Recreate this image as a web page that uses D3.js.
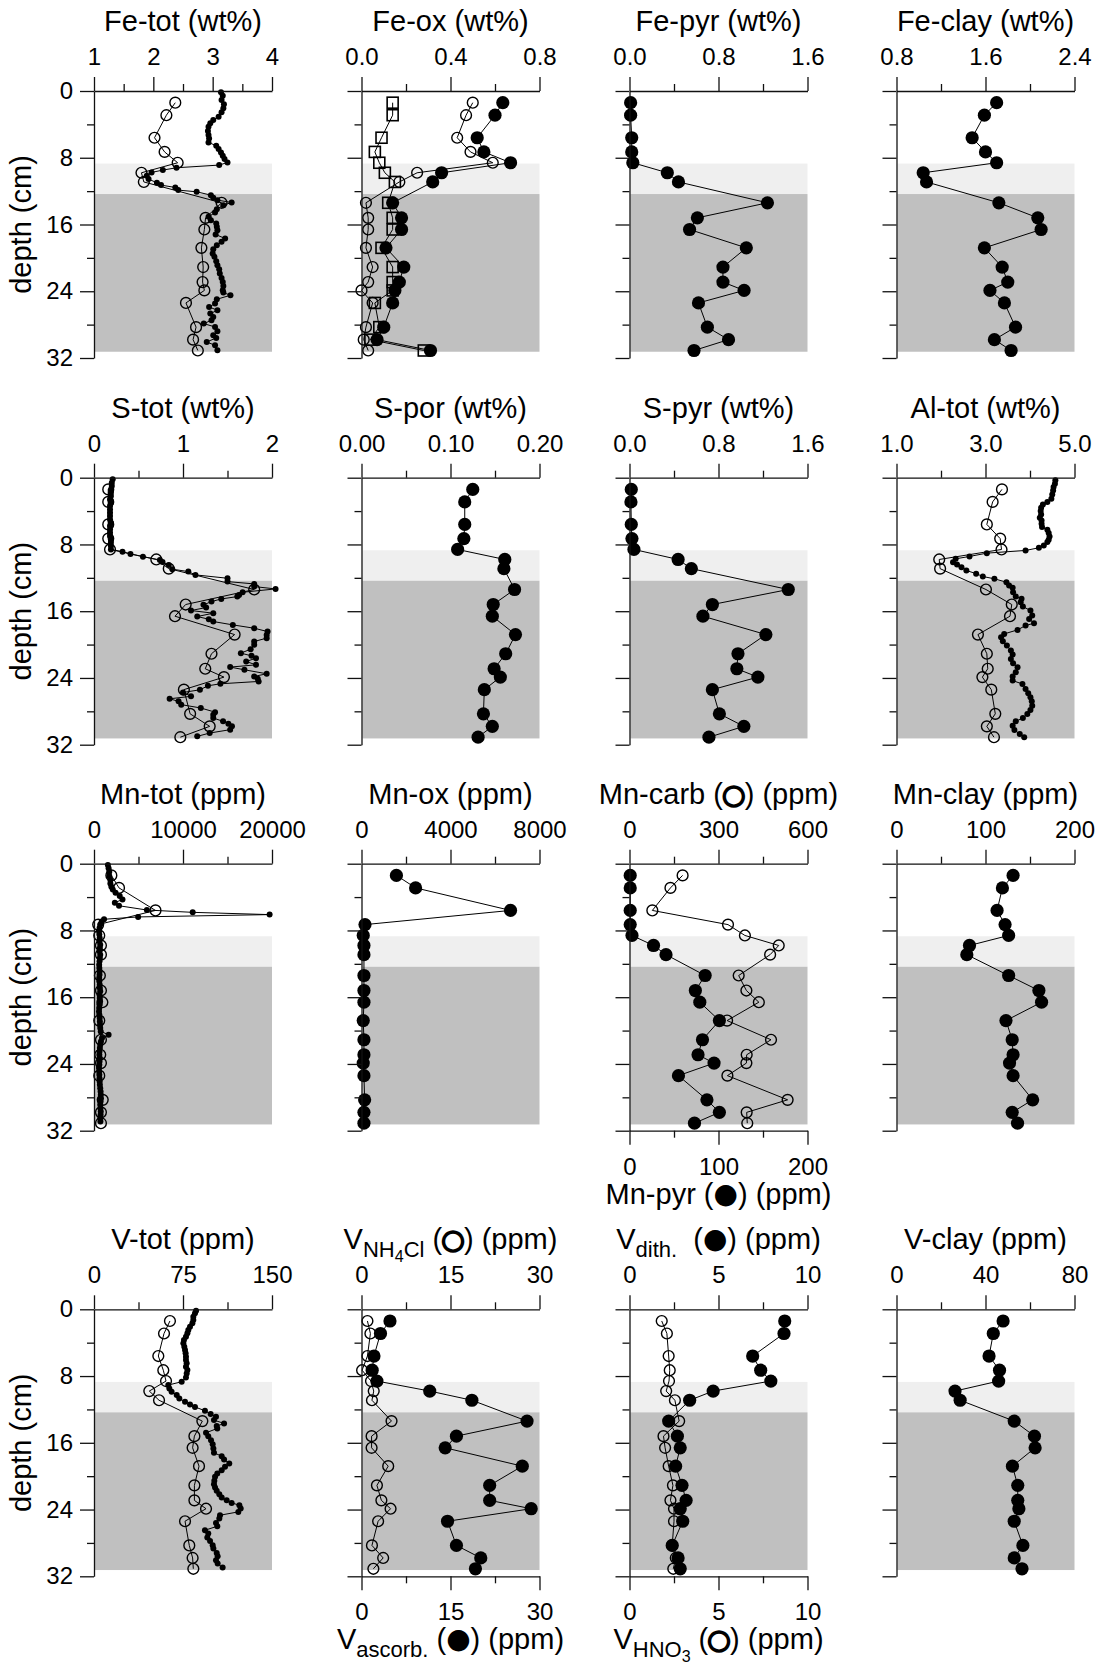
<!DOCTYPE html>
<html>
<head>
<meta charset="utf-8">
<script src="https://cdn.jsdelivr.net/npm/d3@7"></script>
<style>
  body { margin: 0; background: #fff; }
  svg text { font-family: "Liberation Sans", Arial, sans-serif; fill: #000; }
</style>
</head>
<body>
<svg id="chart" width="1096" height="1666"></svg>
<script>
// ---------------- data ----------------
// depths (cm) of the discrete samples
const sampleDepth = [1.4, 2.9, 5.6, 7.3, 8.6, 9.8, 10.9, 13.4, 15.2, 16.6, 18.8, 21.1, 22.9, 23.9, 25.4, 28.3, 29.8, 31.1];
// depth-zone boundaries (cm): light zone, dark zone
const zoneBounds = [8.7, 12.35, 31.25];
const depthMajor = [0, 8, 16, 24, 32];
const depthMinor = [4, 12, 20, 28];

// Fe
const feTotHiDepth = [0.16,0.56,1.08,1.6,2.08,2.56,3.08,3.48,3.88,4.28,4.8,5.28,5.68,6.16,6.56,6.96,7.36,7.76,8.16,8.56,8.88,9.2,9.48,9.76,10.16,10.56,11.0,11.28,11.56,11.88,12.08,12.48,12.8,13.08,13.36,13.68,14.16,14.56,15.08,15.48,15.88,16.28,16.68,17.2,17.68,18.08,18.48,18.96,19.48,19.88,20.4,20.88,21.36,21.88,22.4,22.88,23.36,23.88,24.16,24.48,24.96,25.48,25.88,26.28,26.68,27.08,27.48,27.88,28.28,28.8,29.28,29.6,30.08,30.48,31.08];
const feTotHi = [3.14,3.17,3.15,3.19,3.18,3.15,3.10,3.01,2.96,2.93,2.92,2.93,2.94,2.93,3.06,3.10,3.14,3.17,3.20,3.25,3.11,2.39,2.16,1.97,1.89,1.92,2.06,2.13,2.37,2.42,2.73,2.97,3.01,3.08,3.32,3.18,3.07,3.04,2.93,2.97,3.06,3.07,3.08,3.05,3.21,3.15,3.07,3.01,3.00,3.03,3.06,3.08,3.11,3.12,3.15,3.17,3.18,3.17,3.18,3.30,3.07,3.04,2.94,3.08,2.96,3.01,2.98,2.85,3.04,3.08,3.01,3.06,2.90,3.04,3.08];
const feTotBulk = [2.37,2.22,2.02,2.19,2.41,1.80,1.84,3.15,2.88,2.86,2.81,2.84,2.83,2.86,2.55,2.72,2.67,2.75];
const feOxFilled = [0.635,0.60,0.52,0.55,0.67,0.36,0.32,0.14,0.18,0.18,0.11,0.19,0.17,0.15,0.14,0.10,0.07,0.31];
const feOxOpen = [0.50,0.47,0.43,0.49,0.59,0.25,0.17,0.02,0.03,0.03,0.02,0.05,0.03,0.00,0.05,0.02,0.01,0.03];
const feOxSquare = [0.14,0.14,0.09,0.06,0.08,0.105,0.15,0.12,0.14,0.14,0.09,0.14,0.14,0.14,0.06,0.08,0.04,0.28];
const fePyr = [0.01,0.01,0.02,0.02,0.03,0.34,0.44,1.24,0.61,0.54,1.05,0.84,0.84,1.03,0.62,0.70,0.89,0.58];
const feClay = [1.70,1.59,1.48,1.60,1.70,1.04,1.07,1.72,2.07,2.10,1.59,1.75,1.80,1.64,1.77,1.87,1.68,1.83];

// S and Al
const sTotHiDepth = [0.2,0.6,1.0,1.4,1.8,2.2,2.6,3.0,3.4,3.8,4.2,4.6,5.0,5.4,5.8,6.2,6.6,7.0,7.4,7.8,8.2,8.6,8.86,9.14,9.46,9.86,10.1,10.45,10.97,11.25,11.65,12.05,12.45,12.73,13.05,13.33,13.73,14.05,14.25,14.53,14.85,15.24,15.56,15.92,16.24,16.64,16.96,17.24,17.64,18.04,18.44,18.84,19.23,19.63,20.03,20.55,21.03,21.35,21.63,22.03,22.43,22.7,23.02,23.5,23.82,24.1,24.42,24.7,24.94,25.42,25.74,26.2,26.5,26.8,27.2,27.6,28.1,28.4,28.8,29.2,29.5,29.8,30.2,30.6,31.0];
const sTotHi = [0.21,0.20,0.20,0.19,0.19,0.19,0.18,0.19,0.18,0.18,0.18,0.18,0.18,0.19,0.18,0.18,0.18,0.18,0.19,0.19,0.19,0.19,0.32,0.41,0.55,0.74,0.77,0.84,0.88,1.06,1.14,1.50,1.50,1.80,1.80,2.04,1.67,1.63,1.61,1.43,1.32,1.23,1.26,1.09,1.34,1.16,1.29,1.34,1.56,1.80,1.95,1.94,1.94,1.80,1.80,1.76,1.65,1.77,1.82,1.71,1.82,1.53,1.69,1.94,1.80,1.84,1.85,1.42,1.28,1.19,1.00,1.09,0.85,0.95,0.98,1.20,1.36,1.34,1.34,1.45,1.51,1.55,1.53,1.30,1.16];
const sTotBulk = [0.16,0.16,0.16,0.16,0.18,0.70,0.84,1.80,1.03,0.91,1.58,1.32,1.25,1.46,1.01,1.08,1.30,0.97];
const sPor = [0.125,0.116,0.116,0.115,0.108,0.161,0.160,0.172,0.148,0.147,0.173,0.162,0.149,0.156,0.138,0.137,0.147,0.131];
const sPyr = [0.016,0.013,0.016,0.022,0.04,0.437,0.556,1.427,0.745,0.66,1.226,0.975,0.965,1.154,0.745,0.808,1.028,0.714];
const alTotHiDepth = [0.32,0.72,1.12,1.52,2.0,2.52,2.92,3.2,3.6,4.0,4.4,4.8,5.12,5.52,5.92,6.24,6.64,7.04,7.44,7.72,8.12,8.4,8.72,9.04,9.44,9.72,10.12,10.4,10.72,11.12,11.5,11.84,12.12,12.52,12.92,13.2,13.72,14.24,14.52,14.92,15.44,15.92,16.52,16.92,17.44,17.72,18.24,18.72,19.12,19.6,20.12,20.72,21.2,21.72,22.24,22.72,23.32,23.84,24.32,24.72,25.32,25.84,26.32,26.8,27.32,27.84,28.32,28.8,29.2,29.72,30.24,30.72,31.12];
const alTotHi = [4.57,4.56,4.53,4.52,4.50,4.48,4.39,4.29,4.25,4.24,4.25,4.22,4.26,4.26,4.27,4.39,4.42,4.44,4.42,4.39,4.31,4.20,3.90,3.03,2.64,2.33,2.27,2.36,2.46,2.57,2.79,2.94,3.20,3.47,3.53,3.61,3.62,3.68,3.81,3.79,3.84,4.01,4.05,3.98,4.09,3.90,3.72,3.42,3.35,3.39,3.48,3.57,3.61,3.57,3.62,3.72,3.68,3.61,3.61,3.83,3.90,3.96,4.01,4.04,4.05,4.01,3.94,3.84,3.68,3.61,3.65,3.77,3.87];
const alTotBulk = [3.37,3.16,3.03,3.33,3.36,1.96,1.98,3.01,3.59,3.55,2.83,3.03,3.05,2.93,3.13,3.22,3.03,3.19];

// Mn
const mnTotHiDepth = [0.16,0.56,0.96,1.48,1.96,2.36,2.76,3.08,3.48,3.88,4.28,4.68,5.04,5.55,5.83,6.1,6.38,6.66,6.94,7.3,7.7,8.1,8.5,8.9,9.3,9.7,10.1,10.5,10.9,11.3,11.7,12.1,12.5,12.9,13.3,13.7,14.1,14.5,14.9,15.3,15.7,16.1,16.5,16.9,17.3,17.7,18.1,18.5,18.9,19.3,19.7,20.1,20.5,20.9,21.3,21.7,22.1,22.5,22.9,23.3,23.7,24.1,24.5,24.9,25.3,25.7,26.1,26.5,26.9,27.3,27.7,28.1,28.5,28.9,29.3,29.7,30.1,30.5,30.9];
const mnTotHi = [1560,1640,1720,1720,1840,1840,1950,2110,2420,2890,3200,2340,2810,5940,11090,19730,4960,1130,860,700,620,560,600,640,620,700,660,620,700,660,620,580,600,640,620,580,600,640,660,700,620,640,680,620,580,560,600,640,660,680,700,760,1640,900,780,700,660,620,600,640,620,600,560,580,600,620,640,660,700,740,760,780,740,700,720,760,740,700,720];
const mnTotBulk = [1950,2810,6910,470,590,780,780,660,780,940,590,780,700,780,590,980,780,780];
const mnOx = [1569,2431,6698,157,78,110,110,110,110,110,78,110,110,78,110,141,110,110];
const mnCarb = [179,138,77,332,389,503,474,368,394,436,329,477,395,394,330,533,395,397];
const mnPyr = [0.8,0.8,0.8,0.8,2.8,27,41,85,74,79,101,82,77,95,55,87,101,73];
const mnClay = [131,119,113,122,126,82,79,126,160,163,123,130,131,127,131,153,130,136];

// V
const vTotHiDepth = [0.16,0.48,0.88,1.28,1.68,2.08,2.48,2.88,3.28,3.68,4.08,4.48,4.88,5.28,5.68,6.08,6.48,6.88,7.28,7.68,8.16,8.68,9.08,9.48,9.88,10.28,10.68,11.08,11.4,11.7,12.16,12.56,12.88,13.28,13.68,14.0,14.28,14.8,15.2,15.68,16.16,16.68,17.2,17.6,18.0,18.48,18.88,19.28,19.68,20.08,20.56,20.96,21.36,21.76,22.16,22.56,22.88,23.2,23.48,23.88,24.28,24.68,25.08,25.6,26.0,26.48,26.88,27.36,27.76,28.28,28.68,29.2,29.6,30.08,30.48,30.96];
const vTotHi = [86.0,85.1,83.7,83.7,82.9,80.9,79.5,78.7,77.5,75.8,75.3,76.1,76.7,77.2,77.5,77.5,78.1,77.5,78.7,78.1,77.5,73.9,62.6,63.5,65.4,69.7,71.9,76.7,80.9,85.1,93.5,98.3,102.8,101.1,109.6,103.4,103.9,94.4,96.3,98.6,100.0,100.6,101.1,107.6,109.6,114.0,110.4,107.6,103.9,102.0,101.4,101.1,102.0,103.4,105.6,107.6,111.8,116.0,122.5,123.6,121.6,106.2,105.6,102.8,103.9,93.5,96.3,95.5,97.8,100.0,100.6,103.4,104.2,102.8,104.2,108.4];
const vTotBulk = [64.0,59.0,54.2,58.4,60.7,46.6,54.8,91.3,84.6,83.1,88.5,84.6,84.6,94.4,76.7,80.3,83.1,83.7];
const vNH4Cl = [1.0,1.5,1.0,0.1,1.6,2.06,1.76,5.06,1.7,1.7,4.5,2.6,3.35,4.9,2.8,1.76,3.65,2.0];
const vAscorb = [4.8,3.2,2.1,1.8,2.6,11.5,18.6,27.9,16.0,14.1,27.1,21.6,21.6,28.6,14.5,16.0,20.1,19.2];
const vDith = [8.72,8.68,6.92,7.37,7.94,4.70,3.38,2.20,2.69,2.85,2.59,2.95,3.18,2.85,2.99,2.40,2.73,2.85];
const vHNO3 = [1.81,2.10,2.20,2.26,2.22,2.06,2.55,2.79,1.91,2.00,2.20,2.44,2.30,2.50,2.50,2.40,2.60,2.46];
const vClay = [47.9,43.5,41.6,46.3,45.9,26.3,28.6,52.9,62.0,62.3,52.1,54.5,54.5,55.0,52.9,56.8,52.9,56.4];

// ---------------- panel definitions ----------------
const panels = [
  { row:0, col:0, title:[['Fe-tot (wt%)','n']], top:{domain:[1,4], ticks:[1,2,3,4], fmt:'d'},
    series:[{depth:feTotHiDepth, values:feTotHi, mark:'hi'}, {depth:sampleDepth, values:feTotBulk, mark:'open'}] },
  { row:0, col:1, title:[['Fe-ox (wt%)','n']], top:{domain:[0,0.8], ticks:[0,0.4,0.8], fmt:'.1f'},
    series:[{depth:sampleDepth, values:feOxFilled, mark:'filled'}, {depth:sampleDepth, values:feOxOpen, mark:'open'}, {depth:sampleDepth, values:feOxSquare, mark:'square'}] },
  { row:0, col:2, title:[['Fe-pyr (wt%)','n']], top:{domain:[0,1.6], ticks:[0,0.8,1.6], fmt:'.1f'},
    series:[{depth:sampleDepth, values:fePyr, mark:'filled'}] },
  { row:0, col:3, title:[['Fe-clay (wt%)','n']], top:{domain:[0.8,2.4], ticks:[0.8,1.6,2.4], fmt:'.1f'},
    series:[{depth:sampleDepth, values:feClay, mark:'filled'}] },

  { row:1, col:0, title:[['S-tot (wt%)','n']], top:{domain:[0,2], ticks:[0,1,2], fmt:'d'},
    series:[{depth:sTotHiDepth, values:sTotHi, mark:'hi'}, {depth:sampleDepth, values:sTotBulk, mark:'open'}] },
  { row:1, col:1, title:[['S-por (wt%)','n']], top:{domain:[0,0.2], ticks:[0,0.1,0.2], fmt:'.2f'},
    series:[{depth:sampleDepth, values:sPor, mark:'filled'}] },
  { row:1, col:2, title:[['S-pyr (wt%)','n']], top:{domain:[0,1.6], ticks:[0,0.8,1.6], fmt:'.1f'},
    series:[{depth:sampleDepth, values:sPyr, mark:'filled'}] },
  { row:1, col:3, title:[['Al-tot (wt%)','n']], top:{domain:[1,5], ticks:[1,3,5], fmt:'.1f'},
    series:[{depth:alTotHiDepth, values:alTotHi, mark:'hi'}, {depth:sampleDepth, values:alTotBulk, mark:'open'}] },

  { row:2, col:0, title:[['Mn-tot (ppm)','n']], top:{domain:[0,20000], ticks:[0,10000,20000], fmt:'d'},
    series:[{depth:mnTotHiDepth, values:mnTotHi, mark:'hi'}, {depth:sampleDepth, values:mnTotBulk, mark:'open'}] },
  { row:2, col:1, title:[['Mn-ox (ppm)','n']], top:{domain:[0,8000], ticks:[0,4000,8000], fmt:'d'},
    series:[{depth:sampleDepth, values:mnOx, mark:'filled'}] },
  { row:2, col:2, title:[['Mn-carb (','n'],['\u25CF','ring'],[') (ppm)','n']], top:{domain:[0,600], ticks:[0,300,600], fmt:'d'},
    bottom:{domain:[0,200], ticks:[0,100,200], fmt:'d', title:[['Mn-pyr (','n'],['\u25CF','dot'],[') (ppm)','n']]},
    series:[{depth:sampleDepth, values:mnPyr, mark:'filled', axis:'bottom'}, {depth:sampleDepth, values:mnCarb, mark:'open'}] },
  { row:2, col:3, title:[['Mn-clay (ppm)','n']], top:{domain:[0,200], ticks:[0,100,200], fmt:'d'},
    series:[{depth:sampleDepth, values:mnClay, mark:'filled'}] },

  { row:3, col:0, title:[['V-tot (ppm)','n']], top:{domain:[0,150], ticks:[0,75,150], fmt:'d'},
    series:[{depth:vTotHiDepth, values:vTotHi, mark:'hi'}, {depth:sampleDepth, values:vTotBulk, mark:'open'}] },
  { row:3, col:1, title:[['V','n'],['NH','s'],['4','ss'],['Cl','s'],[' (','n'],['\u25CF','ring'],[') (ppm)','n']],
    top:{domain:[0,30], ticks:[0,15,30], fmt:'d'},
    bottom:{domain:[0,30], ticks:[0,15,30], fmt:'d', title:[['V','n'],['ascorb.','s'],[' (','n'],['\u25CF','dot'],[') (ppm)','n']]},
    series:[{depth:sampleDepth, values:vAscorb, mark:'filled', axis:'bottom'}, {depth:sampleDepth, values:vNH4Cl, mark:'open'}] },
  { row:3, col:2, title:[['V','n'],['dith.','s'],['\u00A0\u00A0(','n'],['\u25CF','dot'],[') (ppm)','n']],
    top:{domain:[0,10], ticks:[0,5,10], fmt:'d'},
    bottom:{domain:[0,10], ticks:[0,5,10], fmt:'d', title:[['V','n'],['HNO','s'],['3','ss'],[' (','n'],['\u25CF','ring'],[') (ppm)','n']]},
    series:[{depth:sampleDepth, values:vDith, mark:'filled'}, {depth:sampleDepth, values:vHNO3, mark:'open', axis:'bottom'}] },
  { row:3, col:3, title:[['V-clay (ppm)','n']], top:{domain:[0,80], ticks:[0,40,80], fmt:'d'},
    series:[{depth:sampleDepth, values:vClay, mark:'filled'}] }
];

// ---------------- layout ----------------
const W = 178, H = 267;
const colX = [94, 361.5, 629.5, 896.5];
const rowY = [91, 477.7, 863.7, 1309.3];
const zoneFill = ['#efefef', '#c0c0c0'];
const LONG = 14, SHORT = 7;

const svg = d3.select('#chart');
const y = d3.scaleLinear().domain([0, 32]).range([0, H]);

function midpoints(arr) {
  const m = [];
  for (let i = 1; i < arr.length; i++) m.push((arr[i - 1] + arr[i]) / 2);
  return m;
}

// text with sub/sub-sub levels and marker glyphs
function richText(sel, parts) {
  const lvlOff = { n: 0, s: 8, ss: 13, dot: -1, ring: -1 };
  let off = 0;
  parts.forEach(([t, k]) => {
    const ts = sel.append('tspan').text(t).attr('dy', lvlOff[k] - off);
    off = lvlOff[k];
    if (k === 's') ts.attr('font-size', 22);
    else if (k === 'ss') ts.attr('font-size', 16);
    else if (k === 'dot') ts.attr('font-family', 'DejaVu Sans').attr('font-size', 28);
    else if (k === 'ring') ts.attr('font-family', 'DejaVu Sans').attr('font-size', 25)
      .style('fill', '#fff').style('stroke', '#000').style('stroke-width', 3.4);
    else ts.attr('font-size', 29);
  });
}

function styleAxis(g) {
  g.attr('font-size', 24).attr('font-family', null);
  g.selectAll('.domain, .tick line').attr('stroke', '#111').attr('stroke-width', 1.3);
}

function drawPanel(p) {
  const g = svg.append('g').attr('transform', `translate(${colX[p.col]},${rowY[p.row]})`);
  const xTop = d3.scaleLinear().domain(p.top.domain).range([0, W]);
  const xBot = p.bottom ? d3.scaleLinear().domain(p.bottom.domain).range([0, W]) : null;

  // depth zones
  const spans = [[zoneBounds[0], zoneBounds[1]], [zoneBounds[1], zoneBounds[2]]];
  g.selectAll('rect.zone').data(spans).join('rect').attr('class', 'zone')
    .attr('x', 1).attr('width', W - 1)
    .attr('y', d => y(d[0])).attr('height', d => y(d[1]) - y(d[0]))
    .attr('fill', (d, i) => zoneFill[i]);

  // profiles
  p.series.forEach(s => {
    const sx = s.axis === 'bottom' ? xBot : xTop;
    const n = Math.min(s.depth.length, s.values.length);
    const pts = d3.range(n).map(i => [sx(s.values[i]), y(s.depth[i])]);
    const sg = g.append('g');
    sg.append('path').attr('d', d3.line()(pts))
      .attr('fill', 'none').attr('stroke', '#000').attr('stroke-width', 1);
    if (s.mark === 'square') {
      sg.selectAll('rect').data(pts).join('rect')
        .attr('x', d => d[0] - 5.5).attr('y', d => d[1] - 5.5).attr('width', 11).attr('height', 11)
        .attr('fill', 'none').attr('stroke', '#000').attr('stroke-width', 1.6);
    } else {
      const r = { hi: 3, open: 5.4, filled: 6.6 }[s.mark];
      sg.selectAll('circle').data(pts).join('circle')
        .attr('cx', d => d[0]).attr('cy', d => d[1]).attr('r', r)
        .attr('fill', s.mark === 'open' ? 'none' : '#000')
        .attr('stroke', s.mark === 'open' ? '#000' : 'none')
        .attr('stroke-width', 1.4);
    }
  });

  // top axis
  const fmtTop = d3.format(p.top.fmt);
  g.append('g').call(d3.axisTop(xTop).tickValues(p.top.ticks).tickSize(LONG).tickSizeOuter(0)
    .tickPadding(12).tickFormat(fmtTop)).call(styleAxis);
  g.append('g').call(d3.axisTop(xTop).tickValues(midpoints(p.top.ticks)).tickSize(SHORT).tickFormat(''))
    .call(styleAxis).call(a => a.select('.domain').remove());

  // depth axis
  const leftMajor = d3.axisLeft(y).tickValues(depthMajor).tickSize(LONG).tickSizeOuter(0).tickPadding(7);
  if (p.col !== 0) leftMajor.tickFormat('');
  g.append('g').call(leftMajor).call(styleAxis);
  g.append('g').call(d3.axisLeft(y).tickValues(depthMinor).tickSize(SHORT).tickFormat(''))
    .call(styleAxis).call(a => a.select('.domain').remove());

  // optional bottom axis
  if (p.bottom) {
    const fmtBot = d3.format(p.bottom.fmt);
    g.append('g').attr('transform', `translate(0,${H})`)
      .call(d3.axisBottom(xBot).tickValues(p.bottom.ticks).tickSize(LONG).tickSizeOuter(0)
        .tickPadding(13).tickFormat(fmtBot)).call(styleAxis);
    g.append('g').attr('transform', `translate(0,${H})`)
      .call(d3.axisBottom(xBot).tickValues(midpoints(p.bottom.ticks)).tickSize(SHORT).tickFormat(''))
      .call(styleAxis).call(a => a.select('.domain').remove());
    const bt = g.append('text').attr('x', W / 2).attr('y', H + 73)
      .attr('text-anchor', 'middle').attr('font-size', 29).style('white-space', 'pre');
    richText(bt, p.bottom.title);
  }

  // title
  const tt = g.append('text').attr('x', W / 2).attr('y', -60)
    .attr('text-anchor', 'middle').attr('font-size', 29).style('white-space', 'pre');
  richText(tt, p.title);

  // depth axis title
  if (p.col === 0) {
    g.append('text')
      .attr('transform', `translate(${31 - colX[0]},${H / 2}) rotate(-90)`)
      .attr('text-anchor', 'middle').attr('font-size', 29)
      .text('depth (cm)');
  }
}

panels.forEach(drawPanel);
</script>
</body>
</html>
